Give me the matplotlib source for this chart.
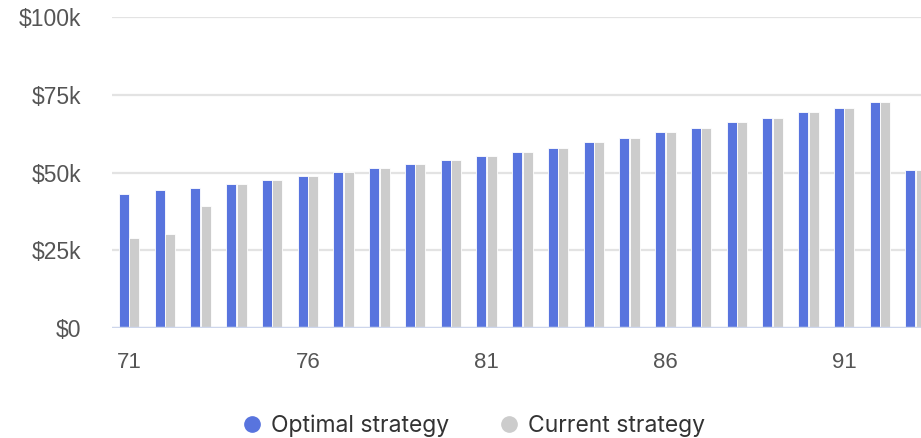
import numpy as np
import matplotlib.pyplot as plt
from matplotlib.lines import Line2D

# edades y valores (en miles de dolares)
edades = list(range(71, 94))
optima = [43.2, 44.4, 45.0, 46.4, 47.5, 48.9, 50.2, 51.5, 52.8, 54.1, 55.4, 56.6,
          57.9, 59.8, 61.0, 63.0, 64.3, 66.2, 67.5, 69.5, 70.7, 72.7, 50.9]
actual = [28.9, 30.1, 39.2, 46.4, 47.5, 48.9, 50.2, 51.5, 52.8, 54.1, 55.4, 56.6,
          57.9, 59.8, 61.0, 63.0, 64.3, 66.2, 67.5, 69.5, 70.7, 72.7, 50.9]
ticks_x = [71, 76, 81, 86, 91]
ticks_y = [0, 25, 50, 75, 100]
etiquetas_y = ["$0", "$25k", "$50k", "$75k", "$100k"]
series = ["Optimal strategy", "Current strategy"]

azul = "#5874de"
gris = "#cccccc"

fig = plt.figure(figsize=(9.21, 4.38), dpi=100)
ax = fig.add_axes([112 / 921, 110 / 438, 1 - 112 / 921, 311 / 438])

x = np.array(edades)
ancho = 0.28
ax.bar(x - 0.145, optima, width=ancho, color=azul, edgecolor="white", linewidth=0.6, zorder=3)
ax.bar(x + 0.145, actual, width=ancho, color=gris, edgecolor="white", linewidth=0.6, zorder=3)

ax.set_xlim(70.52, 93.15)
ax.set_ylim(0, 100)
ax.set_yticks(ticks_y)
ax.set_yticklabels(etiquetas_y)
ax.set_xticks(ticks_x)
ax.set_xticklabels([str(t) for t in ticks_x])

# rejilla horizontal
for t in ticks_y[1:]:
    ax.axhline(t, color="#e3e3e3", linewidth=1.6, zorder=1)
ax.axhline(0, color="#cdd6ec", linewidth=2.5, zorder=4)

for s in ax.spines.values():
    s.set_visible(False)
ax.tick_params(axis="both", length=0, labelcolor="#555555")
ax.tick_params(axis="y", pad=22, labelsize=16.5)
ax.tick_params(axis="x", pad=17, labelsize=16)
for lbl in ax.get_xticklabels() + ax.get_yticklabels():
    lbl.set_family("Liberation Sans")

manijas = [Line2D([], [], marker="o", linestyle="", markersize=11, color=azul),
           Line2D([], [], marker="o", linestyle="", markersize=11, color=gris)]
fig.legend(manijas, series, loc="center", bbox_to_anchor=(0.512, 0.028), ncol=2,
           frameon=False, handletextpad=0.25, columnspacing=2.0, handlelength=1.2,
           prop={"family": "Inter", "size": 16.5}, labelcolor="#333333")

fig.savefig("out.png", dpi=100)
